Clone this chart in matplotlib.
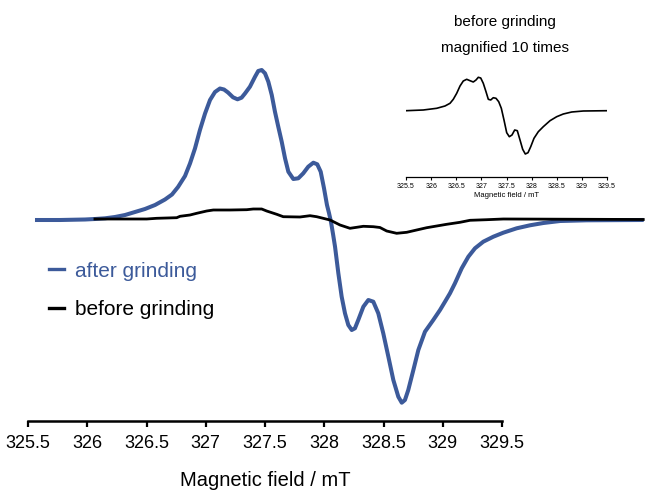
import numpy as np
import matplotlib
matplotlib.use("Agg")
import matplotlib.pyplot as plt

# Spectres RPE
after_field = [325.576, 325.770, 325.981, 326.065, 326.150, 326.234, 326.319, 326.403,
               326.487, 326.572, 326.656, 326.715, 326.766, 326.825, 326.867, 326.909,
               326.951, 326.994, 327.036, 327.078, 327.120, 327.154, 327.188, 327.230,
               327.268, 327.302, 327.331, 327.373, 327.416, 327.443, 327.472, 327.500,
               327.528, 327.557, 327.584, 327.612, 327.641, 327.669, 327.697, 327.739,
               327.781, 327.823, 327.865, 327.908, 327.941, 327.970, 327.998, 328.023,
               328.040, 328.057, 328.074, 328.091, 328.119, 328.147, 328.175, 328.203,
               328.232, 328.259, 328.287, 328.330, 328.372, 328.414, 328.456, 328.498,
               328.541, 328.583, 328.625, 328.654, 328.681, 328.709, 328.752, 328.794,
               328.850, 328.920, 328.977, 329.019, 329.061, 329.103, 329.160, 329.216,
               329.272, 329.342, 329.427, 329.511, 329.624, 329.736, 329.849, 329.990,
               330.215, 330.679]
after_int = [0, 0, 0.5, 1, 1.7, 3, 5, 8,
             11, 15, 20.5, 25.5, 33, 44, 56.5, 71.5,
             90, 106.5, 120, 128, 131.5, 130.5, 127.5, 122.7,
             120.7, 122.3, 126.5, 133.3, 143.3, 149, 150, 146.7,
             138.3, 125, 108.3, 93.3, 78.3, 61.7, 48.3, 41,
             41.7, 46.7, 53.3, 57.3, 55.7, 48.3, 31.7, 15,
             7, -2, -14, -26.7, -53.3, -76.7, -93.3, -105,
             -110, -108.3, -100, -86.7, -80, -81.7, -93.3, -113.3,
             -136.7, -160, -176.7, -182.7, -180, -170, -150, -130,
             -111.7, -100, -90, -81.7, -73.3, -63.3, -48.3, -36.7,
             -28.3, -21.7, -16.7, -12.7, -8.3, -5.3, -3, -1,
             -0.3, 0]

before_field = [326.065, 326.502, 326.586, 326.755, 326.783, 326.867, 326.924, 327.008,
                327.064, 327.205, 327.346, 327.401, 327.472, 327.514, 327.599, 327.654,
                327.795, 327.880, 327.936, 328.049, 328.133, 328.217, 328.274, 328.330,
                328.414, 328.470, 328.527, 328.611, 328.696, 328.780, 328.865, 328.949,
                329.033, 329.146, 329.230, 329.371, 329.511, 330.692]
before_int = [1, 1, 1.7, 2.3, 3.7, 5, 6.7, 9,
              10, 10, 10.3, 11, 11, 9, 5.7, 3.3,
              3, 4.3, 3.3, 0, -5, -8.3, -7.3, -6.3,
              -6.7, -7.5, -11, -13.3, -12.3, -10, -7.7, -6,
              -4.3, -2.3, -0.3, 0.3, 1, 0.5]

# x10 (encart)
inset_field = [325.5, 325.844, 326.111, 326.276, 326.376, 326.441, 326.509, 326.575,
               326.640, 326.708, 326.774, 326.839, 326.893, 326.939, 326.987, 327.038,
               327.092, 327.138, 327.186, 327.237, 327.291, 327.345, 327.397, 327.450,
               327.504, 327.556, 327.609, 327.663, 327.715, 327.769, 327.822, 327.874,
               327.928, 327.982, 328.047, 328.133, 328.232, 328.366, 328.499, 328.630,
               328.798, 329.028, 329.506]
inset_int = [0, 0.7, 2.4, 4.7, 7.4, 11.4, 17.4, 24.7,
             29.7, 31.4, 30, 28.7, 30.7, 33.4, 32.7, 27.4,
             19, 11.4, 10.7, 13, 12.4, 9, 2.4, -9.3,
             -22, -26, -24.3, -19.3, -20, -29.3, -38.6, -43.3,
             -42, -36, -27.6, -21, -16, -10, -6, -3.3,
             -1.3, -0.3, 0]

ticks = [325.5, 326, 326.5, 327, 327.5, 328, 328.5, 329, 329.5]
tick_labels = ["325.5", "326", "326.5", "327", "327.5", "328", "328.5", "329", "329.5"]

blue = '#3c5a9a'
plt.rcParams['font.family'] = ['Liberation Sans', 'DejaVu Sans']

fig = plt.figure(figsize=(6.69, 4.93), dpi=100)
ax = fig.add_axes([28/669, 72/493, 474/669, 381/493])

ax.plot(after_field, after_int, color=blue, lw=2.9, label='after grinding', clip_on=False, zorder=2,
        solid_joinstyle='round')
ax.plot(before_field, before_int, color='black', lw=2.0, label='before grinding', clip_on=False, zorder=3,
        solid_joinstyle='round')

ax.set_xlim(325.5, 329.5)
ax.set_ylim(-201, 180)
for s in ['top', 'right', 'left']:
    ax.spines[s].set_visible(False)
ax.spines['bottom'].set_linewidth(1.8)
ax.set_yticks([])
ax.set_xticks(ticks)
ax.set_xticklabels(tick_labels, fontsize=13)
ax.tick_params(axis='x', direction='out', length=4, width=1.6, pad=6)
ax.set_xlabel('Magnetic field / mT', fontsize=14.5, labelpad=14)

leg = ax.legend(loc='upper left', bbox_to_anchor=(30/669, 1 - 243/493), bbox_transform=fig.transFigure,
                frameon=False, fontsize=15, handlelength=0.75, handletextpad=0.5,
                labelspacing=0.93, labelcolor='linecolor')
for h in leg.legend_handles:
    h.set_linewidth(2.4)

# encart
axi = fig.add_axes([406/669, 316/493, 201/669, 107/493])
axi.plot(inset_field, inset_int, color='black', lw=1.2, solid_joinstyle='round')
axi.set_xlim(325.5, 329.5)
axi.set_ylim(-66.3, 40.7)
for s in ['top', 'right', 'left']:
    axi.spines[s].set_visible(False)
axi.spines['bottom'].set_linewidth(0.9)
axi.set_yticks([])
axi.set_xticks(ticks)
axi.set_xticklabels(tick_labels, fontsize=5)
axi.tick_params(axis='x', direction='out', length=2, width=0.8, pad=2)
axi.set_xlabel('Magnetic field / mT', fontsize=5.5, labelpad=2)

fig.text(505/669, 1 - 22/493, 'before grinding', ha='center', va='center', fontsize=11)
fig.text(505/669, 1 - 48/493, 'magnified 10 times', ha='center', va='center', fontsize=11)

fig.savefig('out.png', dpi=100)
